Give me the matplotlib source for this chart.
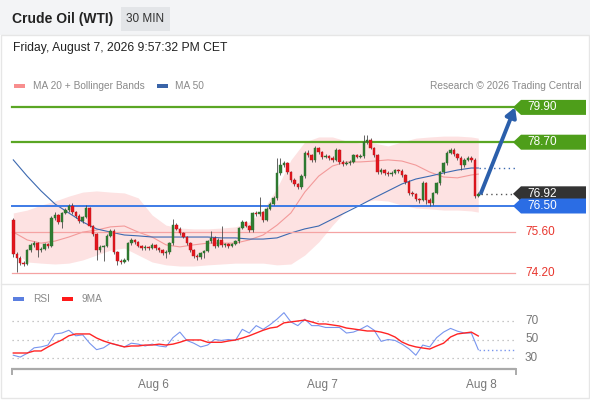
import matplotlib
matplotlib.use('Agg')
import matplotlib.pyplot as plt
import matplotlib.transforms as mtransforms
from matplotlib.patches import Rectangle, Polygon
import numpy as np

plt.rcParams['font.family'] = ['Liberation Sans', 'DejaVu Sans']

# ---------------- data ----------------
first_open = 76.02
closes = [74.84, 74.71, 74.53, 74.50, 74.98, 75.16, 75.22, 74.98, 75.02, 75.19,
          75.12, 76.09, 76.19, 75.95, 76.26, 76.36, 76.50, 76.29, 76.16, 75.98,
          76.12, 76.43, 75.81, 75.53, 74.98, 75.09, 75.12, 75.47, 75.64, 74.91,
          74.60, 74.57, 74.64, 75.22, 75.33, 75.26, 75.12, 75.05, 75.09, 75.05,
          75.16, 75.05, 74.98, 74.88, 74.91, 75.22, 75.84, 75.71, 75.57, 75.43,
          75.22, 74.98, 74.78, 74.74, 74.88, 74.95, 75.29, 75.40, 75.12, 75.33,
          75.16, 75.19, 75.12, 75.19, 75.29, 75.74, 75.95, 75.81, 75.67, 76.26,
          76.22, 76.29, 76.02, 76.40, 76.57, 76.78, 77.64, 77.91, 77.98, 77.67,
          77.40, 77.26, 77.16, 77.53, 78.33, 78.26, 78.09, 78.50, 78.36, 78.19,
          78.22, 78.16, 78.09, 78.43, 78.02, 77.95, 77.98, 78.02, 78.26, 78.19,
          78.22, 78.71, 78.78, 78.50, 78.26, 77.67, 77.74, 77.64, 77.60, 77.64,
          77.74, 77.71, 77.57, 77.33, 76.95, 76.91, 76.74, 76.71, 77.29, 76.71,
          76.60, 76.95, 77.29, 77.67, 77.98, 78.33, 78.43, 78.29, 78.16, 77.91,
          78.09, 78.16, 78.09, 76.84, 76.92]
highs = [76.07, 74.90, 74.76, 74.62, 75.03, 75.22, 75.29, 75.26, 75.09, 75.24,
         75.24, 76.14, 76.29, 76.22, 76.31, 76.43, 76.57, 76.62, 76.33, 76.21,
         76.17, 76.52, 76.48, 75.86, 75.57, 75.14, 75.17, 75.52, 75.71, 75.69,
         74.95, 74.66, 74.71, 75.26, 75.38, 75.36, 75.31, 75.16, 75.14, 75.12,
         75.21, 75.19, 75.09, 75.02, 74.97, 75.26, 76.05, 75.90, 75.76, 75.62,
         75.47, 75.26, 75.02, 74.84, 74.93, 75.00, 75.33, 75.64, 75.45, 75.38,
         75.80, 75.24, 75.24, 75.24, 75.34, 75.79, 76.02, 76.00, 75.86, 76.31,
         76.33, 76.80, 76.33, 76.45, 76.64, 76.85, 78.17, 78.16, 78.05, 78.02,
         77.72, 77.45, 77.31, 77.59, 78.40, 78.43, 78.31, 78.57, 78.55, 78.41,
         78.28, 78.26, 78.21, 78.50, 78.48, 78.07, 78.05, 78.07, 78.31, 78.31,
         78.29, 78.95, 78.95, 78.83, 78.55, 78.31, 77.81, 77.79, 77.71, 77.69,
         77.79, 77.79, 77.76, 77.62, 77.38, 77.02, 76.95, 76.79, 77.36, 77.33,
         76.76, 77.00, 77.34, 77.72, 78.03, 78.38, 78.50, 78.50, 78.34, 78.21,
         78.14, 78.22, 78.21, 78.14, 76.97]
lows = [74.74, 74.22, 74.45, 74.42, 74.46, 74.93, 75.10, 74.74, 74.93, 74.98,
        75.05, 75.07, 76.03, 75.88, 75.74, 76.21, 76.31, 76.24, 76.09, 75.91,
        75.93, 76.07, 75.76, 75.45, 74.64, 74.91, 74.62, 75.07, 75.43, 74.86,
        74.48, 74.50, 74.52, 74.59, 75.17, 75.19, 75.07, 74.98, 75.00, 74.98,
        75.02, 75.00, 74.93, 74.81, 74.71, 74.86, 75.17, 75.66, 75.50, 75.38,
        75.16, 74.91, 74.71, 74.64, 74.67, 74.71, 74.91, 75.24, 75.05, 75.07,
        75.09, 75.10, 75.05, 75.07, 75.14, 75.24, 75.69, 75.76, 75.60, 75.62,
        76.16, 76.17, 75.95, 75.97, 76.35, 76.52, 76.72, 77.57, 77.83, 77.60,
        77.33, 77.19, 77.09, 77.10, 77.48, 78.19, 78.02, 78.03, 78.29, 78.12,
        78.14, 78.10, 78.03, 78.04, 77.95, 77.88, 77.90, 77.93, 77.97, 78.14,
        78.14, 78.17, 78.64, 78.45, 78.19, 77.60, 77.60, 77.57, 77.52, 77.55,
        77.59, 77.64, 77.50, 77.26, 76.88, 76.84, 76.67, 76.62, 76.66, 76.57,
        76.50, 76.55, 76.90, 77.24, 77.62, 77.93, 78.28, 78.22, 78.09, 77.74,
        77.86, 78.04, 78.03, 76.79, 76.80]
opens = [first_open] + closes[:-1]

band_idx = list(range(0, 133, 4)) + [134]
ma20 = [75.60, 75.33, 75.22, 75.29, 75.43, 75.60, 75.67, 75.78, 75.81, 75.60,
        75.43, 75.16, 75.09, 75.16, 75.22, 75.22, 75.22, 75.33, 75.50, 75.84,
        76.26, 76.98, 77.53, 77.88, 78.02, 78.02, 78.05, 78.09, 78.05, 77.91,
        77.67, 77.50, 77.47, 77.57, 77.60]
bb_upper = [76.26, 76.36, 76.53, 76.67, 76.84, 76.98, 77.02, 76.98, 76.95, 76.78,
            76.19, 75.84, 75.74, 75.71, 75.71, 75.74, 75.78, 75.95, 76.36, 77.12,
            78.09, 78.71, 78.88, 78.88, 78.74, 78.67, 78.67, 78.57, 78.71, 78.84,
            78.88, 78.91, 78.91, 78.88, 78.84]
bb_lower = [74.98, 74.57, 74.53, 74.50, 74.53, 74.64, 74.81, 74.98, 75.05, 74.81,
            74.57, 74.47, 74.43, 74.43, 74.47, 74.50, 74.53, 74.53, 74.53, 74.47,
            74.50, 74.81, 75.26, 75.84, 76.36, 76.60, 76.71, 76.67, 76.53, 76.43,
            76.40, 76.36, 76.36, 76.33, 76.29]
ma50 = [78.09, 77.53, 77.02, 76.57, 76.26, 75.95, 75.71, 75.60, 75.50, 75.47,
        75.43, 75.43, 75.43, 75.43, 75.43, 75.40, 75.40, 75.36, 75.36, 75.40,
        75.57, 75.71, 75.81, 76.05, 76.29, 76.53, 76.78, 77.02, 77.26, 77.43,
        77.53, 77.64, 77.74, 77.81, 77.81]

rsi_idx = list(range(0, 135, 2))
rsi = [33, 31, 35, 41, 42, 44, 56, 57, 60, 54,
       55, 46, 39, 41, 46, 44, 42, 46, 45, 43,
       45, 43, 42, 52, 58, 49, 46, 42, 44, 50,
       49, 50, 49, 61, 57, 65, 61, 66, 72, 79,
       69, 65, 72, 65, 65, 63, 63, 63, 57, 58,
       61, 65, 60, 48, 50, 49, 45, 40, 33, 44,
       42, 52, 58, 62, 59, 57, 57, 39]
rsi_ma = [35.4, 35.4, 35.4, 37.6, 37.6, 42, 46, 49.5, 54, 56,
          56, 56, 51.6, 48.4, 46, 44, 42, 43, 43, 44,
          44, 45, 44, 45, 47, 49.5, 49.5, 49.5, 47, 47,
          47, 48.4, 49.5, 51.6, 54, 57, 60, 62.4, 63.5, 68,
          69, 70, 71, 69, 66.8, 66.8, 65.7, 64.6, 62.4, 61.4,
          60.3, 59.2, 59.2, 58, 56, 52.7, 47.3, 44, 42, 40.8,
          39.7, 43, 46, 52.7, 56, 57, 58, 53.8]
rsi_levels = [70, 50, 30]

resistances = [79.90, 78.70]
support_main = 76.50
supports = [75.60, 74.20]
last_price = 76.92
target = 79.90
date_ticks = [40.5, 89.0, 134.8]
date_labels = ['Aug 6', 'Aug 7', 'Aug 8']

# ---------------- layout ----------------
W, H = 590, 400
fig = plt.figure(figsize=(W / 100, H / 100), dpi=100)
fig.patch.set_facecolor('white')

X0, DX = 13.3, 3.47  # pixel of first candle, pixel per candle
xlim = ((0 - X0) / DX, (W - X0) / DX)

ov = fig.add_axes([0, 0, 1, 1])
ov.set_xlim(0, W); ov.set_ylim(H, 0); ov.axis('off'); ov.set_zorder(0)

main_top, main_bot = 95, 283
p_per_px = 1 / 29.0
ymin = 76.5 - (main_bot - 206) * p_per_px
ymax = 76.5 + (206 - main_top) * p_per_px
ax = fig.add_axes([0, 1 - main_bot / H, 1, (main_bot - main_top) / H])
ax.set_xlim(*xlim); ax.set_ylim(ymin, ymax); ax.axis('off'); ax.set_zorder(2)
ax.patch.set_alpha(0)

r_top, r_bot = 305, 369
r_per_px = 1 / 0.925
rmin = 50 - (r_bot - 339.5) * r_per_px
rmax = 50 + (339.5 - r_top) * r_per_px
rax = fig.add_axes([0, 1 - r_bot / H, 1, (r_bot - r_top) / H])
rax.set_xlim(*xlim); rax.set_ylim(rmin, rmax); rax.set_zorder(2)
rax.patch.set_alpha(0)
for s in rax.spines.values():
    s.set_visible(False)
rax.set_yticks([])

blend = mtransforms.blended_transform_factory(ov.transData, ax.transData)
rblend = mtransforms.blended_transform_factory(ov.transData, rax.transData)

# ---------------- header / frame ----------------
ov.add_patch(Rectangle((0, 0), W, 35, color='#f3f4f6', lw=0))
ov.add_patch(Rectangle((1, 35), W - 2.5, H - 37, fill=False, ec='#e6e6e6', lw=1))
ov.plot([1, W - 1.5], [284, 284], color='#e6e6e6', lw=1)
ov.text(12, 19.5, 'Crude Oil (WTI)', fontsize=10, fontweight='bold', color='#222222', va='center')
ov.add_patch(Rectangle((121, 7), 49, 24, color='#e3e5e8', lw=0))
ov.text(145.5, 19.5, '30 MIN', fontsize=8.5, color='#333333', va='center', ha='center')
ov.text(13, 48, 'Friday, August 7, 2026 9:57:32 PM CET', fontsize=8.7, color='#222222', va='center')

ov.add_patch(Rectangle((14, 84), 11, 4, color='#f88e8e', lw=0))
ov.text(33, 86, 'MA 20 + Bollinger Bands', fontsize=7.3, color='#8a8a8a', va='center')
ov.add_patch(Rectangle((157, 84), 11, 4, color='#3a64a8', lw=0))
ov.text(175, 86, 'MA 50', fontsize=7.3, color='#8a8a8a', va='center')
ov.text(581, 86, 'Research \u00a9 2026 Trading Central', fontsize=7.3, color='#8a8a8a', va='center', ha='right')

ov.add_patch(Rectangle((13, 297), 11, 4, color='#5b7fe0', lw=0))
ov.text(33, 299, 'RSI', fontsize=7.3, color='#8a8a8a', va='center')
ov.add_patch(Rectangle((62, 297), 11, 4, color='#ff1a1a', lw=0))
ov.text(82, 299, '9MA', fontsize=7.3, color='#8a8a8a', va='center')

# ---------------- main price panel ----------------
ax.fill_between(band_idx, bb_lower, bb_upper, color='#fde2e2', lw=0, zorder=1)
ax.plot(band_idx, ma20, color='#f39a9a', lw=0.8, zorder=2)
ax.plot(band_idx, ma50, color='#3c69b0', lw=0.8, zorder=2)

# level lines
for lv in resistances:
    ax.plot([12, 515], [lv, lv], transform=blend, color='#5aa624', lw=1.6, zorder=3, clip_on=False)
ax.plot([12, 515], [support_main, support_main], transform=blend, color='#3d7be6', lw=1.4, zorder=3, clip_on=False)
for lv in supports:
    ax.plot([12, 515], [lv, lv], transform=blend, color='#f5a3a3', lw=0.9, zorder=3, clip_on=False)

# candles
idx = np.arange(len(closes))
o = np.array(opens); c = np.array(closes)
hi = np.array(highs); lo = np.array(lows)
up = c >= o
ax.vlines(idx, lo, hi, color='#4a4a4a', lw=0.6, zorder=4)
ax.bar(idx[up], (c - o)[up], bottom=o[up], width=0.72, color='#2f7d32', edgecolor='#2a6b2c', lw=0.3, zorder=5)
ax.bar(idx[~up], (o - c)[~up], bottom=c[~up], width=0.72, color='#e3161e', edgecolor='#b81419', lw=0.3, zorder=5)

# dotted extensions
ax.plot([481, 515], [last_price, last_price], transform=blend, color='#555555', lw=1,
        linestyle=(0, (1, 2.5)), zorder=3, clip_on=False)
ax.plot([479, 515], [ma50[-1], ma50[-1]], transform=blend, color='#3c69b0', lw=1,
        linestyle=(0, (1, 2.5)), zorder=3, clip_on=False)

# forecast arrow
ax.annotate('', xy=(515, target), xytext=(481, last_price + 0.03), xycoords=blend, textcoords=blend,
            arrowprops=dict(arrowstyle='-|>,head_length=0.55,head_width=0.32', color='#2b5fab',
                            lw=2.8, shrinkA=0, shrinkB=0), zorder=6, annotation_clip=False)

# price tags
hh = 7.5 * p_per_px
def tag(p, color, text):
    verts = [(513, p), (521, p + hh), (586, p + hh), (586, p - hh), (521, p - hh)]
    ax.add_patch(Polygon(verts, closed=True, transform=blend, color=color, lw=0, zorder=7, clip_on=False))
    ax.text(527, p, text, transform=blend, color='white', fontsize=8.5, va='center', ha='left', zorder=8, clip_on=False)

for lv in resistances:
    tag(lv, '#4e9e1a', f'{lv:.2f}')
tag(last_price, '#333333', f'{last_price:.2f}')
tag(support_main, '#2b6de4', f'{support_main:.2f}')
for lv in supports:
    ax.text(525, lv, f'{lv:.2f}', transform=blend, color='#e8362e', fontsize=8.5, va='center', ha='left', clip_on=False)

# ---------------- RSI panel ----------------
for lv in rsi_levels:
    rax.plot([12, 515], [lv, lv], transform=rblend, color='#b5b5b5', lw=0.9, linestyle=(0, (1, 3)), clip_on=False)
    rax.text(525, lv, str(lv), transform=rblend, color='#777777', fontsize=8.5, va='center', ha='left', clip_on=False)
rax.plot(rsi_idx, rsi, color='#7895ee', lw=0.8, zorder=3)
rax.plot(rsi_idx, rsi_ma, color='#ff2424', lw=1.0, zorder=4)
rax.plot([479, 515], [rsi[-1], rsi[-1]], transform=rblend, color='#7895ee', lw=1,
         linestyle=(0, (1, 2)), clip_on=False)

# time axis
rax.plot([11, 516], [rmin, rmin], transform=rblend, color='#aaaaaa', lw=1.6, clip_on=False, solid_capstyle='butt')
rax.plot([11.5, 11.5], [rmin, rmin - 5 * r_per_px], transform=rblend, color='#aaaaaa', lw=1.4, clip_on=False)
rax.plot([515.5, 515.5], [rmin, rmin - 5 * r_per_px], transform=rblend, color='#aaaaaa', lw=1.4, clip_on=False)
rax.set_xticks(date_ticks)
rax.set_xticklabels(date_labels)
rax.tick_params(axis='x', length=0, pad=7.5, labelsize=8.5, labelcolor='#777777')

fig.savefig('out.png', dpi=100, facecolor='white')
